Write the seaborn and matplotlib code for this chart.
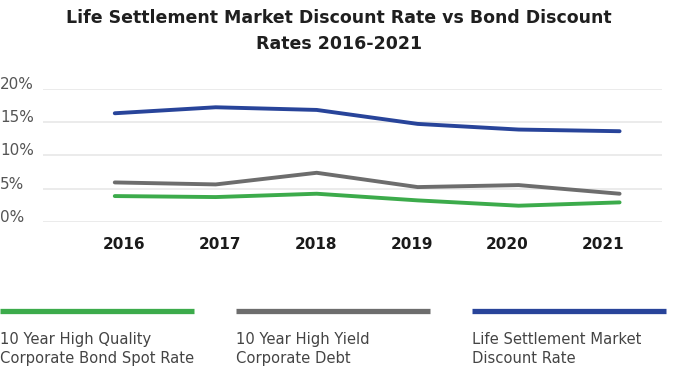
import numpy as np
import pandas as pd
import matplotlib
matplotlib.use("Agg")
import matplotlib.pyplot as plt
import matplotlib.transforms as mtransforms
from matplotlib.lines import Line2D
import seaborn as sns

# values (percent)
years = [2016, 2017, 2018, 2019, 2020, 2021]
hq_bond_rate = [3.9, 3.75, 4.25, 3.25, 2.45, 2.95]
hy_debt_rate = [5.95, 5.65, 7.4, 5.25, 5.55, 4.25]
ls_discount_rate = [16.35, 17.25, 16.85, 14.75, 13.9, 13.65]

series_names = [
    "10 Year High Quality\nCorporate Bond Spot Rate",
    "10 Year High Yield\nCorporate Debt",
    "Life Settlement Market\nDiscount Rate",
]
colors = ["#3cab4b", "#6d6d6d", "#28449a"]
y_ticks = [0, 5, 10, 15, 20]
title = "Life Settlement Market Discount Rate vs Bond Discount\nRates 2016-2021"

df = pd.concat([
    pd.DataFrame({"year": years, "rate": vals, "series": name})
    for name, vals in zip(series_names, [hq_bond_rate, hy_debt_rate, ls_discount_rate])
])

sns.set_theme(style="white")
plt.rcParams["font.family"] = ["DejaVu Sans"]

fig = plt.figure(figsize=(6.78, 3.70), dpi=100)
ax = fig.add_axes([0.0634, 0.40, 0.913, 0.3595])

sns.lineplot(data=df, x="year", y="rate", hue="series", palette=colors,
             linewidth=2.8, legend=False, ax=ax)

ax.set_xlim(2015.289, 2021.42)
ax.set_ylim(0, 20)
ax.set_yticks(y_ticks, labels=[f"{t}%" for t in y_ticks])
# year labels sit slightly inside the line ends, as in the source
ax.set_xticks(np.linspace(2016.09, 2020.84, len(years)), labels=[str(y) for y in years])
ax.set_xlabel("")
ax.set_ylabel("")
ax.grid(axis="y", color="#ebebeb", linewidth=1.4)
ax.grid(axis="x", visible=False)
for s in ax.spines.values():
    s.set_visible(False)
ax.tick_params(axis="both", length=0)
ax.tick_params(axis="y", labelsize=11, labelcolor="#555555", pad=0)
ax.tick_params(axis="x", labelsize=11, labelcolor="#1a1a1a", pad=11)
for lab in ax.get_xticklabels():
    lab.set_fontweight("bold")
# y labels: left aligned at the figure edge, raised above their gridline
shift = mtransforms.ScaledTranslation(-43 / 100, 6 / 100, fig.dpi_scale_trans)
for lab in ax.get_yticklabels():
    lab.set_horizontalalignment("left")
    lab.set_transform(lab.get_transform() + shift)

fig.text(0.5, 1 - 31 / 370, title, ha="center", va="center", fontsize=12.5,
         fontweight="bold", color="#1f1f1f", linespacing=1.6)

# legend along the bottom
legend_x = [0.0, 236 / 678, 472 / 678]
for x0, color, name in zip(legend_x, colors, series_names):
    fig.add_artist(Line2D([x0, x0 + 194 / 678], [1 - 311 / 370] * 2,
                          color=color, linewidth=3.8, solid_capstyle="butt",
                          transform=fig.transFigure))
    fig.text(x0, 1 - 332 / 370, name, ha="left", va="top", fontsize=10.6,
             color="#444444", linespacing=1.3)

fig.savefig("out.png", dpi=100)
